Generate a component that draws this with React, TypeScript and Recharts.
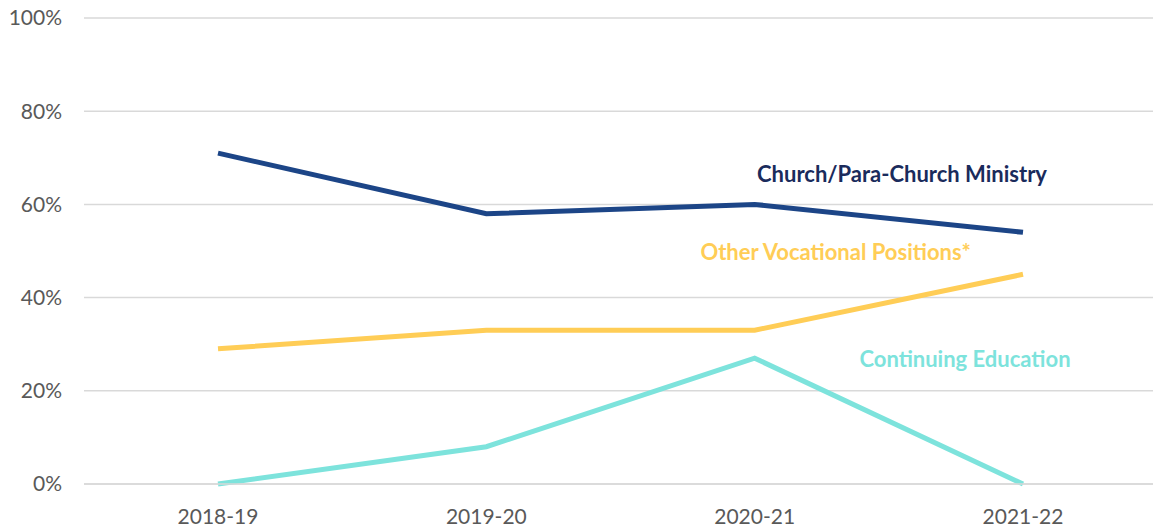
import React from 'react';
import { LineChart, Line, XAxis, YAxis, CartesianGrid, ReferenceDot } from 'recharts';

const years = ['2018-19', '2019-20', '2020-21', '2021-22'];
const churchMinistry = [71, 58, 60, 54];
const otherVocational = [29, 33, 33, 45];
const continuingEducation = [0, 8, 27, 0];
const yTicks = [0, 20, 40, 60, 80, 100];

const data = years.map((year, i) => ({
  year,
  church: churchMinistry[i],
  other: otherVocational[i],
  continuing: continuingEducation[i],
}));

const FONT = 'Lato, "Open Sans", sans-serif';

const seriesLabel = (text: string, color: string, dx: number) => (props: any) => {
  const vb = props.viewBox || {};
  const cx = (vb.x || 0) + (vb.width || 0) / 2 + dx;
  const cy = (vb.y || 0) + (vb.height || 0) / 2;
  return (
    <text
      x={cx}
      y={cy}
      textAnchor="middle"
      dominantBaseline="central"
      fill={color}
      fontFamily={FONT}
      fontWeight={700}
      fontSize={22}
    >
      {text}
    </text>
  );
};

const App: React.FC = () => {
  return (
    <div style={{ position: 'absolute', left: 0, top: 0, width: 1153, height: 531, overflow: 'hidden', background: '#fff' }}>
      <LineChart
        width={1157}
        height={531}
        data={data}
        margin={{ top: 18, right: 0, bottom: 0, left: 0 }}
      >
        <CartesianGrid vertical={false} stroke="#d9d9d9" strokeWidth={1.5} />
        <XAxis
          dataKey="year"
          height={47}
          axisLine={{ stroke: '#d9d9d9', strokeWidth: 1.5 }}
          tickLine={false}
          tickSize={0}
          tickMargin={25}
          tick={{ fill: '#595959', fontSize: 21, fontFamily: FONT }}
          padding={{ left: 134, right: 134 }}
          interval={0}
        />
        <YAxis
          width={84}
          domain={[0, 100]}
          ticks={yTicks}
          tickFormatter={(v: number) => `${v}%`}
          axisLine={false}
          tickLine={false}
          tickSize={0}
          tickMargin={22}
          tick={{ fill: '#595959', fontSize: 21, fontFamily: FONT }}
        />
        <Line
          type="linear"
          dataKey="church"
          stroke="#1c4587"
          strokeWidth={5}
          dot={false}
          isAnimationActive={false}
        />
        <Line
          type="linear"
          dataKey="other"
          stroke="#ffcd56"
          strokeWidth={5}
          dot={false}
          isAnimationActive={false}
        />
        <Line
          type="linear"
          dataKey="continuing"
          stroke="#7de3dc"
          strokeWidth={5}
          dot={false}
          isAnimationActive={false}
        />
        <ReferenceDot
          x="2021-22"
          y={66.7}
          r={0.1}
          fill="none"
          stroke="none"
          label={seriesLabel('Church/Para-Church Ministry', '#1a2b5c', -121)}
        />
        <ReferenceDot
          x="2020-21"
          y={49.8}
          r={0.1}
          fill="none"
          stroke="none"
          label={seriesLabel('Other Vocational Positions*', '#ffcd56', 81)}
        />
        <ReferenceDot
          x="2021-22"
          y={27}
          r={0.1}
          fill="none"
          stroke="none"
          label={seriesLabel('Continuing Education', '#7de3dc', -58)}
        />
      </LineChart>
    </div>
  );
};

export default App;
